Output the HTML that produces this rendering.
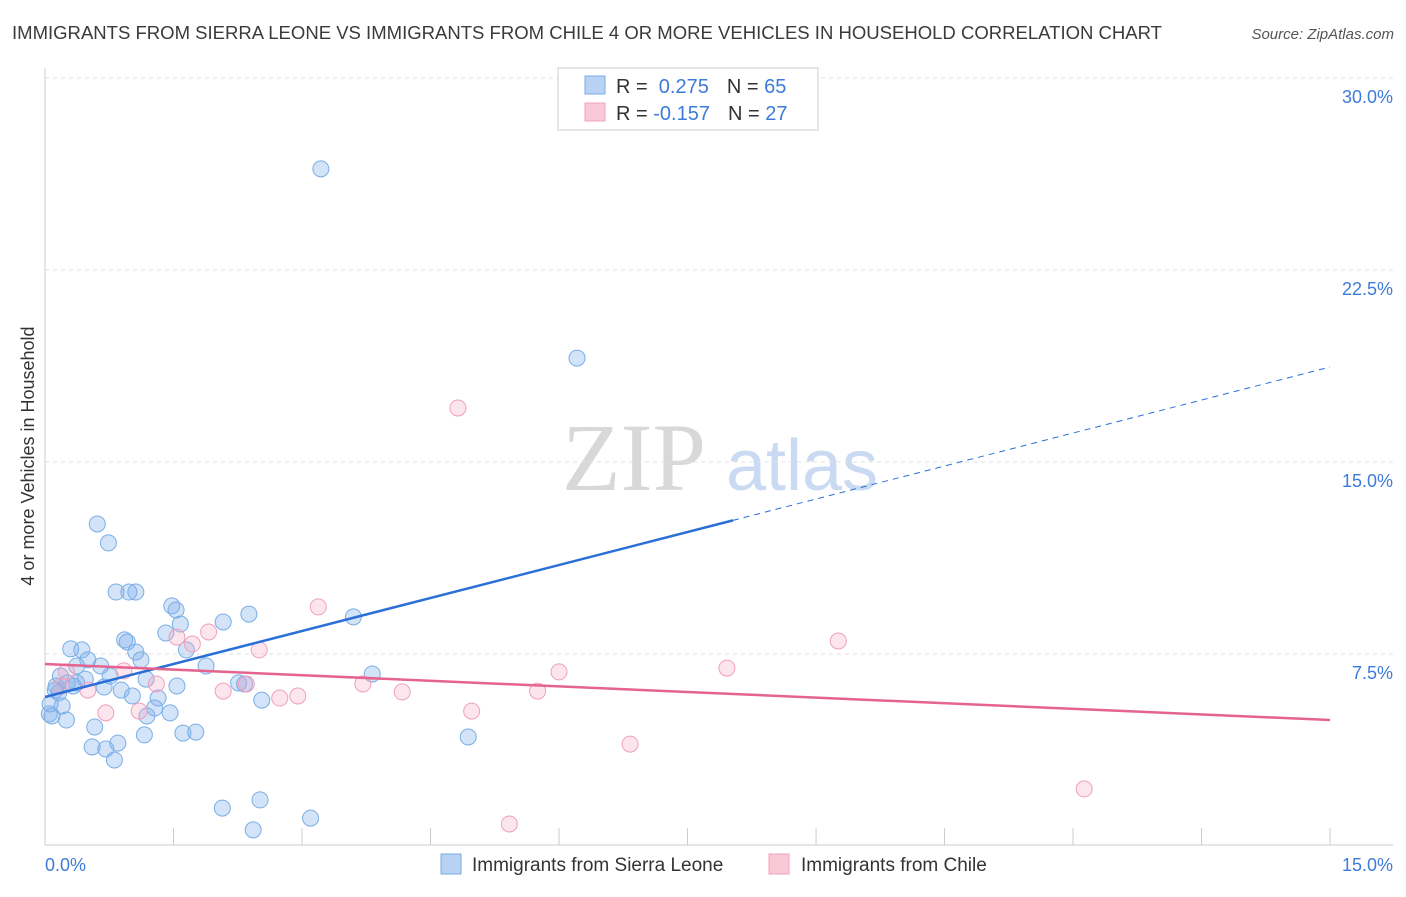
<!DOCTYPE html>
<html><head><meta charset="utf-8"><style>
body{margin:0;background:#fff;font-family:"Liberation Sans",sans-serif}
svg text{font-family:"Liberation Sans",sans-serif}
</style></head><body>
<svg id="c" width="1406" height="892" xmlns="http://www.w3.org/2000/svg">
<text x="12" y="39" font-size="18" fill="#3a3a3a" textLength="1150" lengthAdjust="spacingAndGlyphs">IMMIGRANTS FROM SIERRA LEONE VS IMMIGRANTS FROM CHILE 4 OR MORE VEHICLES IN HOUSEHOLD CORRELATION CHART</text>
<text x="1394" y="39" font-size="15" fill="#555" font-style="italic" text-anchor="end">Source: ZipAtlas.com</text>
<g>
<text x="634" y="490" font-size="96" style="font-family:'Liberation Serif',serif" fill="#d8d8d8" text-anchor="middle">ZIP</text>
<text x="802" y="490" font-size="72" fill="#c9daf2" text-anchor="middle">atlas</text>
</g>
<g id="grid"></g>
<g id="axes"></g>
<g id="marks"></g>
<text transform="translate(34,456) rotate(-90)" font-size="18" fill="#333" text-anchor="middle">4 or more Vehicles in Household</text>
<g>
<rect x="558" y="68" width="260" height="62" fill="#fff" stroke="#ccc"/>
<rect x="585" y="76" width="20" height="18" fill="#b8d2f4" stroke="#7aaee6"/>
<rect x="585" y="103" width="20" height="18" fill="#f9c9d8" stroke="#f0a0bc"/>
<text x="616" y="93" font-size="20" fill="#333">R = <tspan fill="#3d7bd9">&#160;0.275</tspan><tspan fill="#333" dx="18">N = </tspan><tspan fill="#3d7bd9">65</tspan></text>
<text x="616" y="120" font-size="20" fill="#333">R = <tspan fill="#3d7bd9">-0.157</tspan><tspan fill="#333" dx="18">N = </tspan><tspan fill="#3d7bd9">27</tspan></text>
</g>
<g>
<rect x="441" y="854" width="20" height="20" fill="#b8d2f4" stroke="#7aaee6"/>
<text x="472" y="871" font-size="19" fill="#333">Immigrants from Sierra Leone</text>
<rect x="769" y="854" width="20" height="20" fill="#f9c9d8" stroke="#f0a0bc"/>
<text x="801" y="871" font-size="19" fill="#333">Immigrants from Chile</text>
</g>
</svg>
<script>
const blueX=[3.22,6.21,0.61,0.74,0.83,0.98,1.06,1.48,1.53,2.38,2.08,1.58,3.60,1.41,0.93,0.96,0.30,0.43,1.06,1.65,0.50,1.12,0.65,0.37,1.88,3.82,0.76,0.18,1.18,0.47,0.26,0.37,0.33,0.69,1.54,2.26,2.33,0.12,0.16,0.89,1.02,1.32,0.20,2.53,1.28,1.46,1.19,0.05,0.08,0.25,0.58,1.16,1.61,1.76,4.94,0.55,0.71,0.85,0.81,2.07,2.51,3.10,2.43,0.06,0.13];
const blueY=[26.45,19.06,12.58,11.84,9.92,9.92,9.92,9.38,9.22,9.06,8.75,8.67,8.95,8.32,8.05,7.97,7.70,7.66,7.58,7.66,7.27,7.27,7.03,7.03,7.03,6.72,6.64,6.64,6.52,6.52,6.37,6.37,6.25,6.21,6.25,6.37,6.33,6.09,5.98,6.09,5.86,5.78,5.47,5.70,5.39,5.20,5.08,5.16,5.08,4.92,4.65,4.34,4.41,4.45,4.26,3.87,3.79,4.02,3.36,1.48,1.80,1.09,0.63,5.55,6.25];
const pinkX=[4.82,3.19,1.91,1.54,1.72,2.50,9.26,7.96,6.00,0.92,0.25,0.19,1.30,3.71,2.35,2.08,0.50,4.17,2.74,2.95,5.75,0.71,1.10,4.98,6.83,12.13,5.42];
const pinkY=[17.11,9.34,8.36,8.16,7.89,7.66,8.01,6.95,6.80,6.84,6.80,6.25,6.33,6.33,6.33,6.05,6.09,6.02,5.78,5.86,6.05,5.20,5.27,5.27,3.98,2.23,0.86];
const blueTrend=[5.82,18.71]; const blueSolidEnd=8.03;
const pinkTrend=[7.11,4.92];
const yTicks=[7.5,15,22.5,30];
const yTickLabels=["7.5%","15.0%","22.5%","30.0%"];
const xTicks=[0,1.5,3,4.5,6,7.5,9,10.5,12,13.5,15];
const NS="http://www.w3.org/2000/svg";
const X=v=>45+v*85.67, Y=v=>846-v*25.6;
function mk(t,a,p){const e=document.createElementNS(NS,t);for(const k in a)e.setAttribute(k,a[k]);p.appendChild(e);return e;}
const grid=document.getElementById('grid'),axes=document.getElementById('axes'),marks=document.getElementById('marks');
yTicks.forEach((v,i)=>{
 const l=mk('line',{x1:45,x2:1393,y1:Y(v),y2:Y(v),stroke:'#e2e2e2','stroke-dasharray':'4,4'},grid);
 
 
 const t=mk('text',{x:1393,y:Y(v)+25,'font-size':18,fill:'#3d7bd9','text-anchor':'end'},axes);
 t.textContent=yTickLabels[i];
 
 
});
const ax=mk('line',{x1:45,x2:45,y1:68,y2:845,stroke:'#ccc'},axes);


const bx=mk('line',{x1:45,x2:1393,y1:845,y2:845,stroke:'#ccc'},axes);


xTicks.forEach(v=>{
 const l=mk('line',{x1:X(v),x2:X(v),y1:828,y2:845,stroke:'#ccc'},axes);
 
 
});
const xl=mk('text',{x:45,y:871,'font-size':18,fill:'#3d7bd9'},axes);xl.textContent='0.0%';


const xr=mk('text',{x:1393,y:871,'font-size':18,fill:'#3d7bd9','text-anchor':'end'},axes);xr.textContent='15.0%';


blueX.forEach((x,i)=>{
 const c=mk('circle',{cx:X(x),cy:Y(blueY[i]),r:8,fill:'rgba(130,175,235,0.35)',stroke:'#7aaee6','stroke-width':1},marks);
 
 
});
pinkX.forEach((x,i)=>{
 const c=mk('circle',{cx:X(x),cy:Y(pinkY[i]),r:8,fill:'rgba(245,170,195,0.3)',stroke:'#f0a0bc','stroke-width':1},marks);
 
 
});
const by=x=>blueTrend[0]+(blueTrend[1]-blueTrend[0])*x/15;
const b1=mk('line',{x1:X(0),y1:Y(by(0)),x2:X(blueSolidEnd),y2:Y(by(blueSolidEnd)),stroke:'#2a6fd6','stroke-width':2.5},marks);


const b2=mk('line',{x1:X(blueSolidEnd),y1:Y(by(blueSolidEnd)),x2:X(15),y2:Y(by(15)),stroke:'#2a6fd6','stroke-width':1,'stroke-dasharray':'6,5'},marks);


const p1=mk('line',{x1:X(0),y1:Y(pinkTrend[0]),x2:X(15),y2:Y(pinkTrend[1]),stroke:'#e4648f','stroke-width':2.5},marks);


</script>
</body></html>
